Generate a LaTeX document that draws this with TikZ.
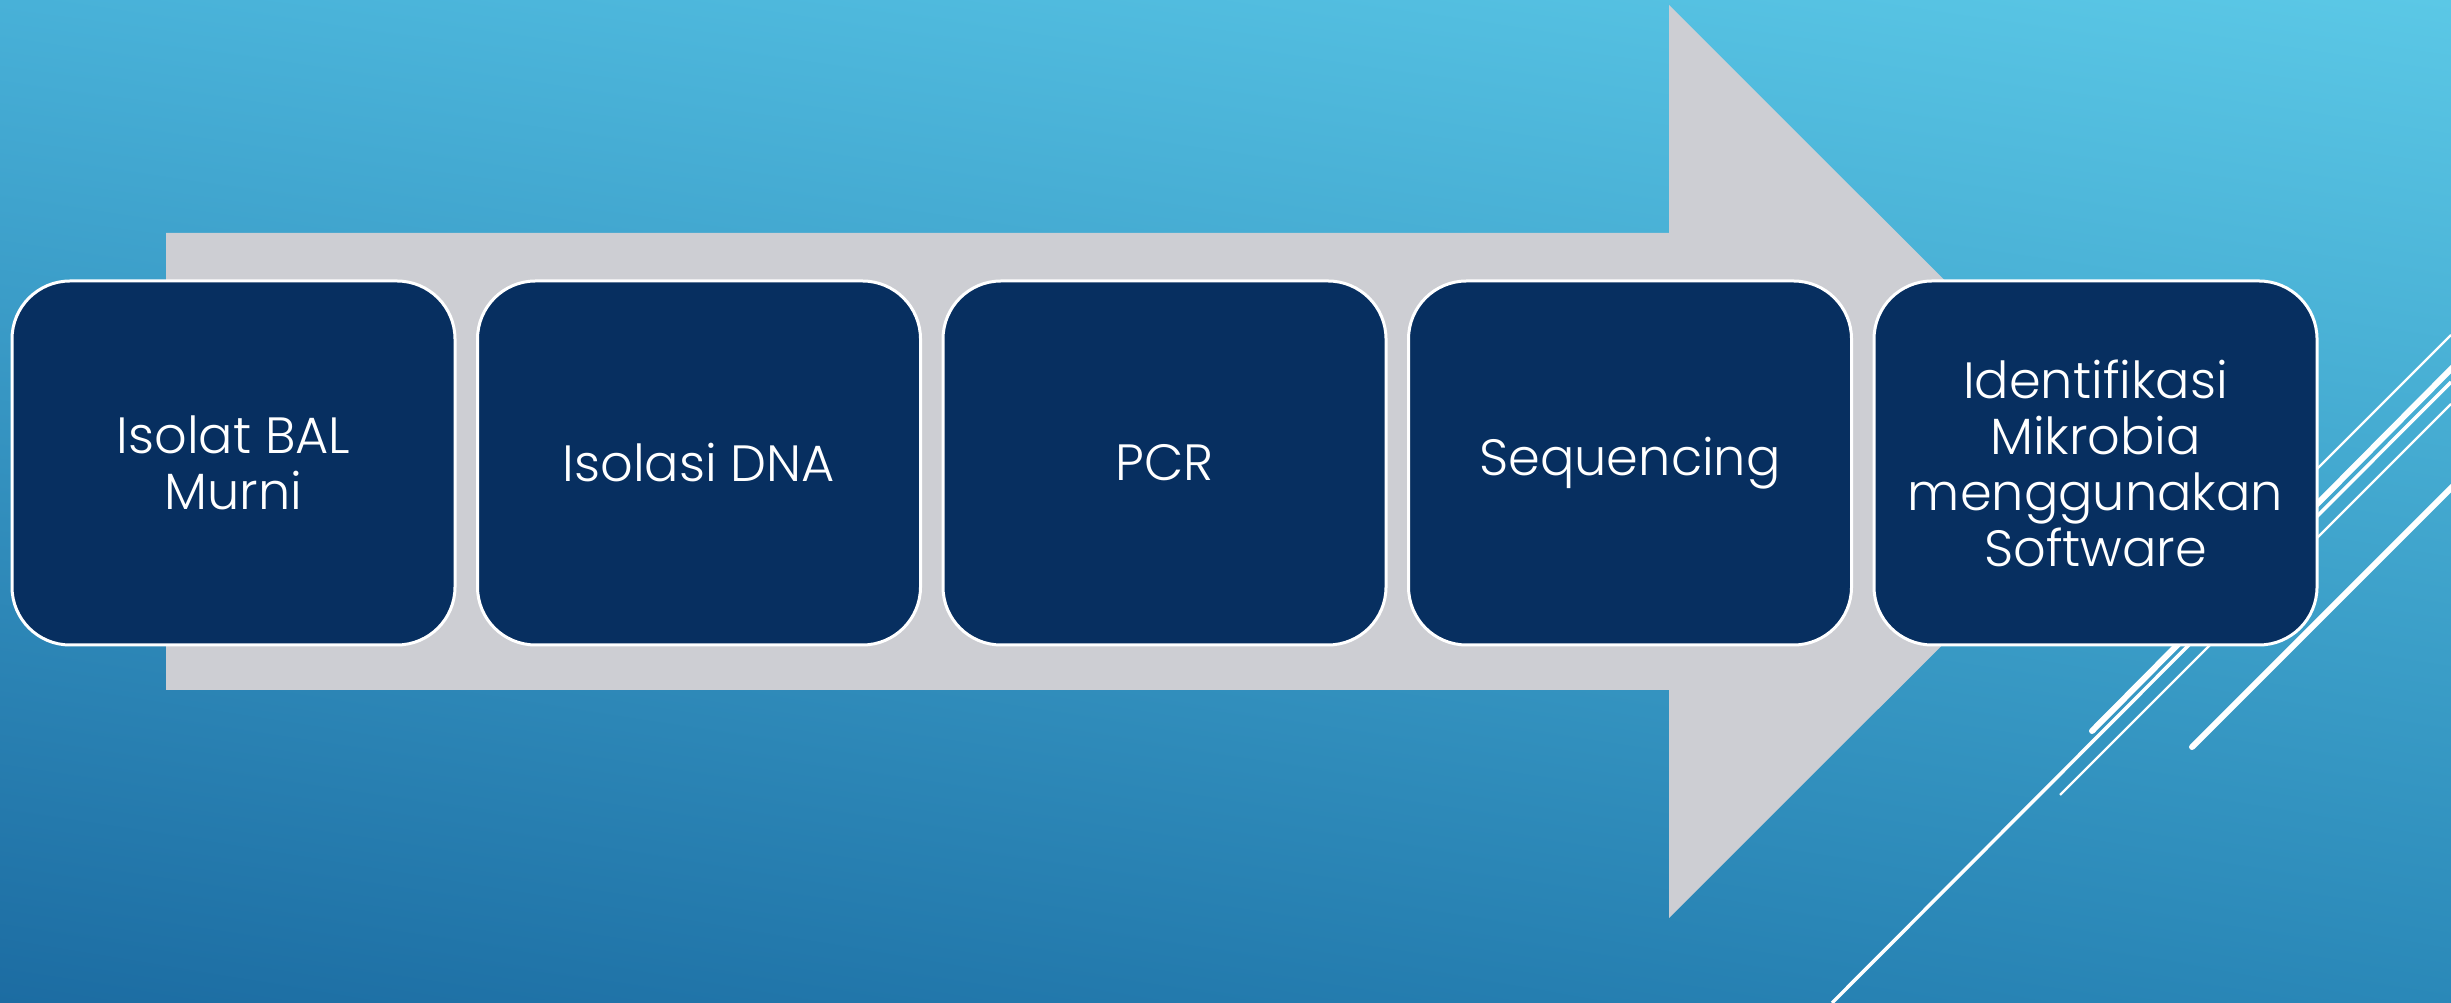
\documentclass[tikz,border=0pt]{standalone}
\usepackage{fontspec}
\usetikzlibrary{shadings}
\setmainfont{Poppins Light}
\definecolor{bgTL}{HTML}{48B1D8}
\definecolor{bgTR}{HTML}{5BC8E6}
\definecolor{bgBL}{HTML}{1C6CA2}
\definecolor{bgBR}{HTML}{2A88B8}
\definecolor{navy}{HTML}{072F60}
\definecolor{arrowgray}{HTML}{CDCED3}
\tikzset{
  stepbox/.style={draw=white, line width=3pt, fill=navy, rounded corners=58pt,
    minimum width=443pt, minimum height=364pt, inner sep=0pt, text=white,
    align=center, font=\fontsize{51}{56}\selectfont},
  thickline/.style={white, line width=6pt, line cap=round},
  medline/.style={white, line width=3.5pt},
  thinline/.style={white, line width=2.2pt}
}
\begin{document}
\begin{tikzpicture}[x=1pt,y=1pt]
\useasboundingbox (0,0) rectangle (2451,1003);
\shade[upper left=bgTL, upper right=bgTR, lower left=bgBL, lower right=bgBR] (0,0) rectangle (2451,1003);
% big arrow
\fill[arrowgray] (166,313) -- (166,770) -- (1669,770) -- (1669,998) -- (2126,541.5) -- (1669,85) -- (1669,313) -- cycle;
% decorative lines
\coordinate (t1a) at (2300,517); \coordinate (t1b) at (2451,668);
\coordinate (taa) at (2092,272); \coordinate (tab) at (2451,634);
\coordinate (tba) at (1832,0); \coordinate (tbb) at (2451,621);
\coordinate (tca) at (2060,208); \coordinate (tcb) at (2451,599);
\coordinate (tda) at (2192,256); \coordinate (tdb) at (2451,515);
\draw[thinline] (t1a) -- (t1b);
\draw[thickline] (taa) -- ([xshift=10pt,yshift=10pt]tab);
\draw[medline] (tba) -- (tbb);
\draw[thinline] (tca) -- (tcb);
\draw[thickline] (tda) -- ([xshift=10pt,yshift=10pt]tdb);
% steps
\node[stepbox] (b1) at (233.5,540) {Isolat BAL\\Murni};
\node[stepbox] (b2) at (699,540) {Isolasi DNA};
\node[stepbox] (b3) at (1164.5,540) {PCR};
\node[stepbox] (b4) at (1630,540) {Sequencing};
\node[stepbox] (b5) at (2095.5,540) {Identifikasi\\Mikrobia\\menggunakan\\Software};
\end{tikzpicture}
\end{document}
